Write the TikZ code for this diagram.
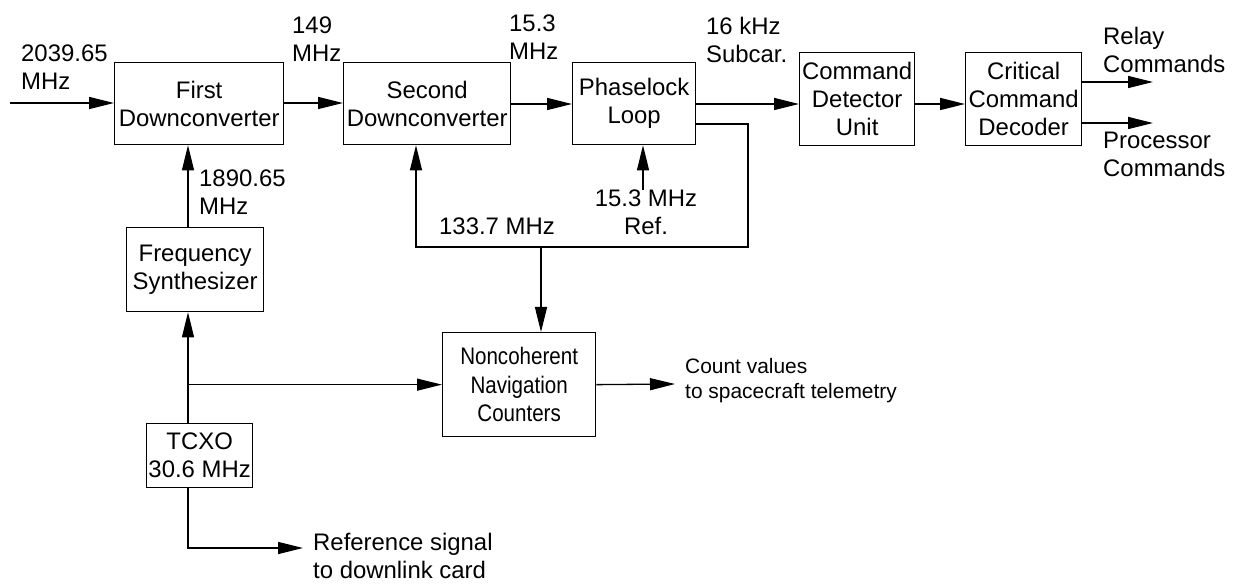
\documentclass[tikz,border=0pt]{standalone}
\usepackage{fontspec}
\setmainfont{Liberation Sans}
\newfontfamily\narrowfam[FakeStretch=0.86]{Liberation Sans}
\usetikzlibrary{arrows.meta}
\newcommand\bigtxt{\fontsize{24}{28}\selectfont}
\newcommand\smalltxt{\fontsize{21}{25}\selectfont}
\newcommand\narrowtxt{\narrowfam\fontsize{24}{28.5}\selectfont}
\begin{document}
\begin{tikzpicture}[x=1bp,y=-1bp,
  box/.style={draw, line width=1.3bp, inner sep=0pt, align=center, anchor=north west, font=\bigtxt},
  lbl/.style={inner sep=0pt, align=left, anchor=north west, font=\bigtxt},
  arr/.style={line width=1.3bp, -{Triangle[length=25bp,width=12bp]}},
  ln/.style={line width=1.3bp}]
\useasboundingbox (0,0) rectangle (1236,584);
% boxes
\node[box, minimum width=169bp, minimum height=82bp] (FD) at (114,62) {First\\Downconverter};
\node[box, minimum width=167bp, minimum height=82bp] (SD) at (343,62) {Second\\Downconverter};
\node[box, minimum width=123bp, minimum height=82bp] (PLL) at (572,62) {Phaselock\\Loop};
\node[box, minimum width=115bp, minimum height=93bp] (CDU) at (799,52) {Command\\Detector\\Unit};
\node[box, minimum width=116bp, minimum height=93bp] (CCD) at (965,52) {Critical\\Command\\Decoder};
\node[box, minimum width=137bp, minimum height=84bp] (FS) at (126,227) {Frequency\\Synthesizer};
\node[box, minimum width=106bp, minimum height=64bp] (TCXO) at (146,423) {TCXO\\30.6 MHz};
\node[box, minimum width=153bp, minimum height=104bp, font=\narrowtxt] (NNC) at (442,332) {Noncoherent\\Navigation\\Counters};
% labels
\node[lbl] (L2039) at (21,45) {2039.65\\MHz};
\node[lbl] (L149) at (292,17) {149\\MHz};
\node[lbl] (L153) at (509,15) {15.3\\MHz};
\node[lbl] (L16k) at (706,17) {16 kHz\\Subcar.};
\node[lbl] (Lrel) at (1103,27) {Relay\\Commands};
\node[lbl] (Lpro) at (1103,132) {Processor\\Commands};
\node[lbl] (L1890) at (199,170) {1890.65\\MHz};
\node[lbl] (L1337) at (439,218) {133.7 MHz};
\node[lbl, align=center, anchor=north] (Lref) at (646,190) {15.3 MHz\\Ref.};
\node[lbl, font=\smalltxt] (Lcnt) at (685,358) {Count values\\to spacecraft telemetry};
\node[lbl] (Ldl) at (313,533) {Reference signal\\to downlink card};
% helper coordinates
\coordinate (inp) at (10,103);
\coordinate (main) at (0,104);
\coordinate (spine) at (188,0);
\coordinate (relend) at (1153,82);
\coordinate (proend) at (1153,123);
\coordinate (refx) at (643,0);
\coordinate (fbr) at (748,124);
\coordinate (fbb) at (748,247);
\coordinate (fbl) at (416,247);
\coordinate (jn) at (541,247);
\coordinate (dlend) at (303,548);
\coordinate (cntend) at (675,384);
% connectors
\draw[arr] (inp) -- (inp -| FD.west);
\draw[arr] (FD.east |- inp) -- (SD.west |- inp);
\draw[arr] (SD.east |- main) -- (PLL.west |- main);
\draw[arr] (PLL.east |- main) -- (CDU.west |- main);
\draw[arr] (CDU.east |- main) -- (CCD.west |- main);
\draw[arr] (CCD.east |- relend) -- (relend);
\draw[arr] (CCD.east |- proend) -- (proend);
\draw[arr] (spine |- FS.north) -- (spine |- FD.south);
\draw[arr] (spine |- TCXO.north) -- (spine |- FS.south);
\draw[arr] (spine |- NNC.west) -- (NNC.west);
\draw[arr] (spine |- TCXO.south) |- (dlend);
\draw[arr] (NNC.east) -- (cntend);
\draw[arr] (refx |- Lref.north) -- (refx |- PLL.south);
\draw[arr] (PLL.east |- fbr) -- (fbr) -- (fbb) -- (fbl) -- (fbl |- SD.south);
\draw[arr] (jn) -- (jn |- NNC.north);
\end{tikzpicture}
\end{document}
